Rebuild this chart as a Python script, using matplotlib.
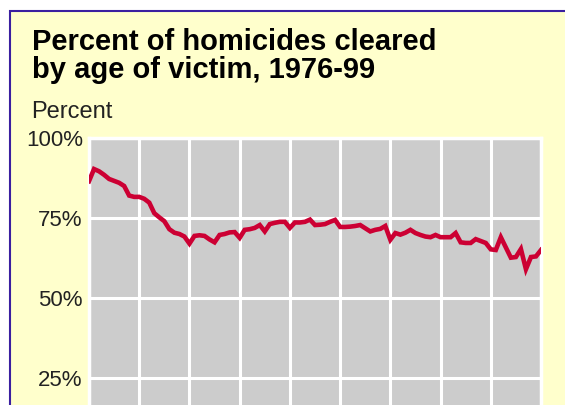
import numpy as np
import matplotlib
matplotlib.use("Agg")
import matplotlib.pyplot as plt
from matplotlib.patches import Rectangle

# Percent of homicides cleared, by single year of victim age
ages = list(range(0, 91))
cleared_pct = [
    86.5, 90.3, 89.6, 88.5, 87.2, 86.6, 86.0, 85.0, 82.0, 81.6,
    81.6, 81.0, 79.8, 76.5, 75.2, 74.0, 71.5, 70.4, 70.0, 69.2,
    67.0, 69.4, 69.6, 69.4, 68.3, 67.4, 69.7, 70.0, 70.5, 70.6,
    68.8, 71.3, 71.5, 71.9, 72.8, 70.8, 73.1, 73.5, 73.8, 73.8,
    71.9, 73.6, 73.6, 73.8, 74.5, 72.8, 72.9, 73.1, 73.8, 74.4,
    72.2, 72.2, 72.3, 72.5, 72.8, 71.8, 70.8, 71.3, 71.6, 72.5,
    68.2, 70.3, 69.8, 70.4, 71.3, 70.3, 69.7, 69.2, 69.0, 69.7,
    69.0, 69.0, 69.0, 70.3, 67.4, 67.2, 67.2, 68.4, 67.8, 67.2,
    65.2, 65.0, 69.0, 65.8, 62.6, 62.8, 65.3, 59.0, 62.8, 63.0,
    65.0,
]
y_ticks = [25, 50, 75, 100]
y_tick_labels = ["25%", "50%", "75%", "100%"]

W, H = 565, 405
fig = plt.figure(figsize=(W / 100, H / 100), dpi=100)
fig.patch.set_facecolor("white")

# yellow panel with a thin blue frame
panel = Rectangle((10 / W, -0.5), 2.0, 1.5 - 11 / H, transform=fig.transFigure,
                  facecolor="#FFFFCC", edgecolor="#3A1FA0", linewidth=1.5, zorder=-5)
fig.patches.append(panel)

fig.text(32 / W, 1 - 50 / H, "Percent of homicides cleared", fontsize=21,
         fontweight="bold", family="Liberation Sans", va="baseline")
fig.text(32 / W, 1 - 78 / H, "by age of victim, 1976-99", fontsize=21,
         fontweight="bold", family="Liberation Sans", va="baseline")
fig.text(31 / W, 1 - 118 / H, "Percent", fontsize=17,
         family="Liberation Sans", va="baseline", color="#222222")

ax = fig.add_axes([89 / W, 1 - 458 / H, 452 / W, 320 / H])
ax.set_zorder(2)
ax.set_facecolor("#CCCCCC")
ax.plot(ages, cleared_pct, color="#CC0033", linewidth=3.3,
        solid_joinstyle="miter", zorder=3)

ax.set_xlim(0, 90)
ax.set_ylim(0, 100)
ax.set_xticks(range(0, 91, 10))
ax.set_yticks(y_ticks)
ax.set_yticklabels(y_tick_labels, family="Liberation Sans", fontsize=16,
                   color="#222222")
ax.tick_params(axis="x", length=0, labelbottom=False)
ax.tick_params(axis="y", length=0, pad=4.5)
ax.grid(True, color="white", linewidth=2.2)
ax.set_axisbelow(True)
for s in ax.spines.values():
    s.set_color("white")
    s.set_linewidth(2.5)

fig.savefig("out.png", dpi=100)
